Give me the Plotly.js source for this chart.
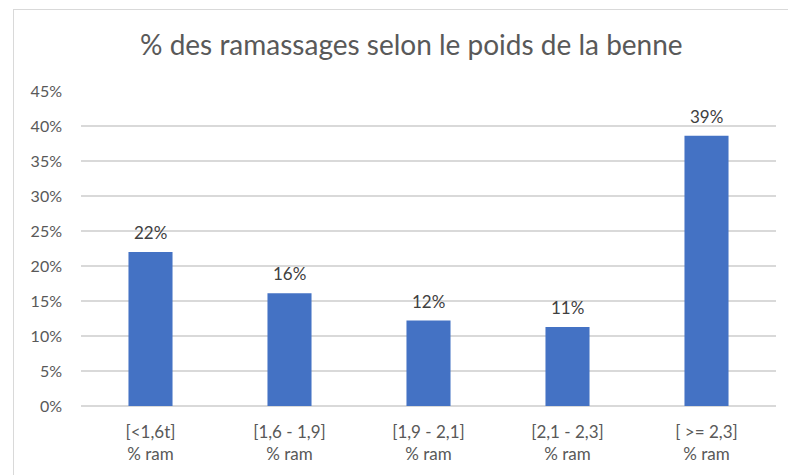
<!DOCTYPE html>
<html>
<head>
<meta charset="utf-8">
<script src="https://cdn.plot.ly/plotly-3.0.1.min.js"></script>
<style>
html,body{margin:0;padding:0;background:#fff;}
#frame{position:absolute;left:13px;top:9px;width:800px;height:500px;border:1.5px solid #d9d9d9;box-sizing:border-box;}
#chart{position:absolute;left:0;top:0;width:788px;height:475px;}
</style>
</head>
<body>
<div id="frame"></div>
<div id="chart"></div>
<script>
const categories = ["[<1,6t]<br>% ram", "[1,6 - 1,9]<br>% ram", "[1,9 - 2,1]<br>% ram", "[2,1 - 2,3]<br>% ram", "[ >= 2,3]<br>% ram"];
const values = [0.220, 0.161, 0.122, 0.113, 0.386];
const labels = ["22%", "16%", "12%", "11%", "39%"];
const titleText = "% des ramassages selon le poids de la benne";

const font = "Lato, 'Open Sans', sans-serif";

const trace = {
  type: "bar",
  x: categories,
  y: values,
  marker: {color: "#4472C4"},
  hoverinfo: "skip"
};

const annotations = categories.map((c, i) => ({
  x: c, y: values[i], xref: "x", yref: "y",
  text: labels[i], showarrow: false,
  yanchor: "bottom", yshift: 7,
  font: {family: font, size: 17, color: "#404040"}
}));

const layout = {
  width: 788, height: 475,
  paper_bgcolor: "rgba(0,0,0,0)",
  plot_bgcolor: "rgba(0,0,0,0)",
  margin: {l: 81, r: 12, t: 91, b: 69},
  bargap: 0.683,
  showlegend: false,
  title: {
    text: titleText,
    x: 0.522, xanchor: "center", xref: "container",
    y: 0.905, yanchor: "middle", yref: "container",
    font: {family: font, size: 28, color: "#595959"}
  },
  xaxis: {
    type: "category",
    showgrid: false,
    showline: false,
    ticks: "",
    ticklabelstandoff: 14,
    tickfont: {family: font, size: 17, color: "#595959"},
    fixedrange: true
  },
  yaxis: {
    range: [0, 0.45],
    dtick: 0.05,
    tickformat: ".0%",
    showgrid: true,
    gridcolor: "#d9d9d9",
    gridwidth: 1.5,
    zeroline: true,
    zerolinecolor: "#d9d9d9",
    zerolinewidth: 1.5,
    showline: false,
    ticks: "",
    ticklabelstandoff: 18,
    tickfont: {family: font, size: 16, color: "#595959"},
    fixedrange: true
  },
  annotations: annotations
};

Plotly.newPlot("chart", [trace], layout, {displayModeBar: false, staticPlot: true});
</script>
</body>
</html>
